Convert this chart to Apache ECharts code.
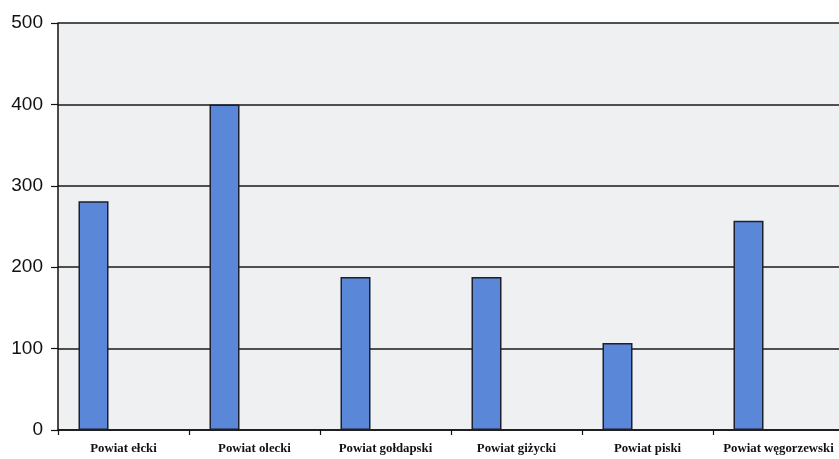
<!DOCTYPE html>
<html>
<head>
<meta charset="utf-8">
<script src="https://cdn.jsdelivr.net/npm/echarts@6/dist/echarts.min.js"></script>
<style>html,body{margin:0;padding:0;background:#fff;overflow:hidden;}#c{width:860px;height:459px;}</style>
</head>
<body>
<div id="c"></div>
<script>
const categories = ['Powiat ełcki', 'Powiat olecki', 'Powiat gołdapski', 'Powiat giżycki', 'Powiat piski', 'Powiat węgorzewski'];
const values = [281, 400, 188, 188, 107, 257];
const emptyA = [null, null, null, null, null, null];
const emptyB = [null, null, null, null, null, null];
const yTicks = [0, 100, 200, 300, 400, 500];

const chart = echarts.init(document.getElementById('c'), null, {renderer: 'canvas'});
const barStyle = {color: '#5a87d8', borderColor: '#1c1f2e', borderWidth: 1.5};
chart.setOption({
  animation: false,
  grid: {left: 58, top: 23, width: 786, height: 407, backgroundColor: '#eef0f2', show: true, borderWidth: 0},
  xAxis: {
    type: 'category',
    data: categories,
    axisLine: {lineStyle: {color: '#111', width: 1.5}},
    axisTick: {show: true, interval: 0, length: 5, lineStyle: {color: '#111', width: 1.2}},
    axisLabel: {interval: 0, fontFamily: 'Liberation Serif', fontWeight: 'bold', fontSize: 12.8, color: '#111', margin: 12}
  },
  yAxis: {
    type: 'value',
    min: yTicks[0],
    max: yTicks[yTicks.length - 1],
    interval: 100,
    axisLine: {show: true, lineStyle: {color: '#111', width: 1.5}},
    axisTick: {show: true, length: 7, lineStyle: {color: '#111', width: 1.2}},
    axisLabel: {fontFamily: 'Liberation Sans', fontSize: 19, color: '#111', margin: 15},
    splitLine: {show: true, lineStyle: {color: '#1a1a1a', width: 1.5}}
  },
  series: [
    {type: 'bar', data: values, barWidth: 30, barGap: '0%', itemStyle: barStyle},
    {type: 'bar', data: emptyA, barWidth: 30, barGap: '0%', itemStyle: barStyle},
    {type: 'bar', data: emptyB, barWidth: 30, barGap: '0%', itemStyle: barStyle}
  ]
});
</script>
</body>
</html>
